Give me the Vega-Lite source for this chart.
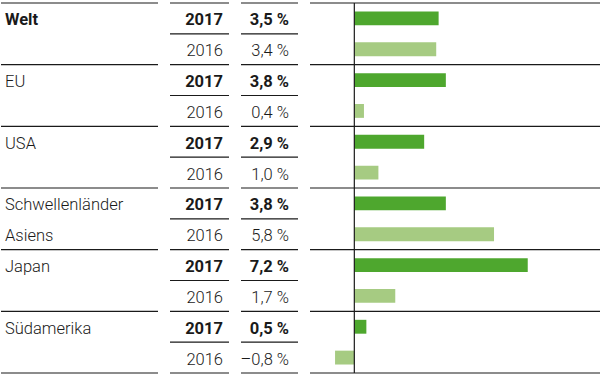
{
  "$schema": "https://vega.github.io/schema/vega-lite/v6.json",
  "padding": {"left": 0, "top": 2, "right": 0, "bottom": 0},
  "bounds": "flush",
  "config": {"view": {"stroke": null}, "text": {"font": "Roboto", "fontSize": 16.5, "color": "#1a1a1a"}},
  "data": {"values": [
    {"key": "Welt 2017", "region": "Welt", "year": "2017", "value": 3.5, "label": "3,5 %", "rlabel": "Welt"},
    {"key": "Welt 2016", "region": "Welt", "year": "2016", "value": 3.4, "label": "3,4 %", "rlabel": ""},
    {"key": "EU 2017", "region": "EU", "year": "2017", "value": 3.8, "label": "3,8 %", "rlabel": "EU"},
    {"key": "EU 2016", "region": "EU", "year": "2016", "value": 0.4, "label": "0,4 %", "rlabel": ""},
    {"key": "USA 2017", "region": "USA", "year": "2017", "value": 2.9, "label": "2,9 %", "rlabel": "USA"},
    {"key": "USA 2016", "region": "USA", "year": "2016", "value": 1.0, "label": "1,0 %", "rlabel": ""},
    {"key": "SA 2017", "region": "Schwellenländer Asiens", "year": "2017", "value": 3.8, "label": "3,8 %", "rlabel": "Schwellenländer"},
    {"key": "SA 2016", "region": "Schwellenländer Asiens", "year": "2016", "value": 5.8, "label": "5,8 %", "rlabel": "Asiens"},
    {"key": "Japan 2017", "region": "Japan", "year": "2017", "value": 7.2, "label": "7,2 %", "rlabel": "Japan"},
    {"key": "Japan 2016", "region": "Japan", "year": "2016", "value": 1.7, "label": "1,7 %", "rlabel": ""},
    {"key": "Süd 2017", "region": "Südamerika", "year": "2017", "value": 0.5, "label": "0,5 %", "rlabel": "Südamerika"},
    {"key": "Süd 2016", "region": "Südamerika", "year": "2016", "value": -0.8, "label": "–0,8 %", "rlabel": ""}
  ]},
  "spacing": 12,
  "hconcat": [
    {
      "width": 157, "height": 370,
      "encoding": {"y": {"field": "key", "type": "nominal", "axis": null, "scale": {"domain": ["Welt 2017", "Welt 2016", "EU 2017", "EU 2016", "USA 2017", "USA 2016", "SA 2017", "SA 2016", "Japan 2017", "Japan 2016", "Süd 2017", "Süd 2016"], "paddingInner": 0, "paddingOuter": 0}}},
      "layer": [
        {"transform": [{"filter": "datum.region == 'Welt'"}], "mark": {"type": "text", "align": "left", "baseline": "alphabetic", "x": 0, "dx": 4, "dy": 7, "fontWeight": "bold"}, "encoding": {"text": {"field": "rlabel"}}},
        {"transform": [{"filter": "datum.region != 'Welt'"}], "mark": {"type": "text", "align": "left", "baseline": "alphabetic", "x": 0, "dx": 4, "dy": 7, "fontWeight": 300}, "encoding": {"text": {"field": "rlabel"}}},
        {"transform": [{"filter": "datum.year == '2016'"}], "mark": {"type": "rule", "color": "#1a1a1a", "strokeWidth": 1.2}, "encoding": {"y": {"field": "key", "type": "nominal", "bandPosition": 1}}},
        {"transform": [{"filter": "datum.key == 'Welt 2017'"}], "mark": {"type": "rule", "color": "#1a1a1a", "strokeWidth": 1.2}, "encoding": {"y": {"field": "key", "type": "nominal", "bandPosition": 0}}}
      ]
    },
    {
      "width": 59, "height": 370,
      "encoding": {"y": {"field": "key", "type": "nominal", "axis": null, "scale": {"domain": ["Welt 2017", "Welt 2016", "EU 2017", "EU 2016", "USA 2017", "USA 2016", "SA 2017", "SA 2016", "Japan 2017", "Japan 2016", "Süd 2017", "Süd 2016"], "paddingInner": 0, "paddingOuter": 0}}},
      "layer": [
        {"transform": [{"filter": "datum.year == '2017'"}], "mark": {"type": "text", "align": "right", "baseline": "alphabetic", "x": "width", "dx": -6, "dy": 7, "fontWeight": "bold"}, "encoding": {"text": {"field": "year"}}},
        {"transform": [{"filter": "datum.year == '2016'"}], "mark": {"type": "text", "align": "right", "baseline": "alphabetic", "x": "width", "dx": -6, "dy": 7, "fontWeight": 300}, "encoding": {"text": {"field": "year"}}},
        {"mark": {"type": "rule", "color": "#1a1a1a", "strokeWidth": 1.2}, "encoding": {"y": {"field": "key", "type": "nominal", "bandPosition": 1}}},
        {"transform": [{"filter": "datum.key == 'Welt 2017'"}], "mark": {"type": "rule", "color": "#1a1a1a", "strokeWidth": 1.2}, "encoding": {"y": {"field": "key", "type": "nominal", "bandPosition": 0}}}
      ]
    },
    {
      "width": 57, "height": 370,
      "encoding": {"y": {"field": "key", "type": "nominal", "axis": null, "scale": {"domain": ["Welt 2017", "Welt 2016", "EU 2017", "EU 2016", "USA 2017", "USA 2016", "SA 2017", "SA 2016", "Japan 2017", "Japan 2016", "Süd 2017", "Süd 2016"], "paddingInner": 0, "paddingOuter": 0}}},
      "layer": [
        {"transform": [{"filter": "datum.year == '2017'"}], "mark": {"type": "text", "align": "right", "baseline": "alphabetic", "x": "width", "dx": -9, "dy": 7, "fontWeight": "bold"}, "encoding": {"text": {"field": "label"}}},
        {"transform": [{"filter": "datum.year == '2016'"}], "mark": {"type": "text", "align": "right", "baseline": "alphabetic", "x": "width", "dx": -9, "dy": 7, "fontWeight": 300}, "encoding": {"text": {"field": "label"}}},
        {"mark": {"type": "rule", "color": "#1a1a1a", "strokeWidth": 1.2}, "encoding": {"y": {"field": "key", "type": "nominal", "bandPosition": 1}}},
        {"transform": [{"filter": "datum.key == 'Welt 2017'"}], "mark": {"type": "rule", "color": "#1a1a1a", "strokeWidth": 1.2}, "encoding": {"y": {"field": "key", "type": "nominal", "bandPosition": 0}}}
      ]
    },
    {
      "width": 290, "height": 370,
      "encoding": {"y": {"field": "key", "type": "nominal", "axis": null, "scale": {"domain": ["Welt 2017", "Welt 2016", "EU 2017", "EU 2016", "USA 2017", "USA 2016", "SA 2017", "SA 2016", "Japan 2017", "Japan 2016", "Süd 2017", "Süd 2016"], "paddingInner": 0, "paddingOuter": 0}}},
      "layer": [
        {"mark": {"type": "bar", "height": {"band": 0.45}}, "encoding": {
          "x": {"field": "value", "type": "quantitative", "axis": null, "scale": {"domain": [-1.84, 10.2], "nice": false, "zero": false}},
          "color": {"field": "year", "type": "nominal", "legend": null, "scale": {"domain": ["2017", "2016"], "range": ["#4ea72e", "#a6cb82"]}}
        }},
        {"transform": [{"filter": "datum.year == '2016'"}], "mark": {"type": "rule", "color": "#1a1a1a", "strokeWidth": 1.2}, "encoding": {"y": {"field": "key", "type": "nominal", "bandPosition": 1}}},
        {"transform": [{"filter": "datum.key == 'Welt 2017'"}], "mark": {"type": "rule", "color": "#1a1a1a", "strokeWidth": 1.2}, "encoding": {"y": {"field": "key", "type": "nominal", "bandPosition": 0}}},
        {"transform": [{"filter": "datum.key == 'Welt 2017'"}], "mark": {"type": "rule", "color": "#1a1a1a", "strokeWidth": 1.2}, "encoding": {"x": {"datum": 0, "type": "quantitative"}, "y": null}}
      ]
    }
  ]
}
